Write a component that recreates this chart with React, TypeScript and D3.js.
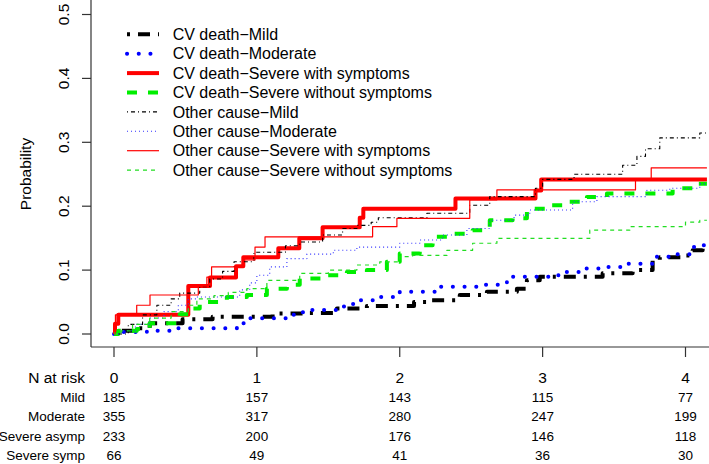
import React from "react";
import * as d3 from "d3";

// ---- data ----
const xTicks = [0, 1, 2, 3, 4];
const yTicks = [0, 0.1, 0.2, 0.3, 0.4, 0.5];
const endTime = 4.15;

const seriesNames = [
  "CV death\u2212Mild",
  "CV death\u2212Moderate",
  "CV death\u2212Severe with symptoms",
  "CV death\u2212Severe without symptoms",
  "Other cause\u2212Mild",
  "Other cause\u2212Moderate",
  "Other cause\u2212Severe with symptoms",
  "Other cause\u2212Severe without symptoms",
];

const cvMildT = [0, 0.05, 0.13, 0.25, 0.48, 0.69, 1.11, 1.35, 1.56, 1.77, 2.1, 2.19, 2.42, 2.61, 2.82, 2.89, 2.98, 3.42, 3.63, 3.77, 3.82, 3.98, 4.05, 4.12];
const cvMildP = [0, 0.005, 0.009, 0.017, 0.023, 0.027, 0.032, 0.033, 0.04, 0.044, 0.05, 0.053, 0.061, 0.066, 0.071, 0.084, 0.0895, 0.095, 0.1, 0.116, 0.12, 0.123, 0.131, 0.139];

const cvModT = [0, 0.05, 0.23, 0.39, 0.86, 0.93, 1.23, 1.3, 1.37, 1.58, 1.65, 1.72, 1.86, 2.0, 2.28, 2.54, 2.75, 3.07, 3.14, 3.26, 3.45, 3.59, 3.8, 3.94, 4.05, 4.12];
const cvModP = [0, 0.003, 0.005, 0.009, 0.017, 0.0245, 0.03, 0.034, 0.0375, 0.043, 0.047, 0.053, 0.058, 0.066, 0.074, 0.077, 0.0895, 0.092, 0.097, 0.1026, 0.105, 0.11, 0.121, 0.125, 0.136, 0.139];

const cvSevSympT = [0, 0.007, 0.03, 0.52, 0.672, 0.854, 0.905, 1.15, 1.297, 1.46, 1.72, 1.745, 2.39, 2.95, 2.99];
const cvSevSympP = [0, 0.016, 0.03, 0.075, 0.0886, 0.106, 0.12, 0.134, 0.15, 0.167, 0.182, 0.196, 0.212, 0.2245, 0.2417];

const cvSevAsympT = [0, 0.03, 0.16, 0.25, 0.46, 0.52, 0.6, 0.79, 0.93, 1.07, 1.21, 1.3, 1.49, 1.63, 1.77, 1.91, 2.0, 2.14, 2.23, 2.37, 2.51, 2.63, 2.79, 2.89, 3.03, 3.17, 3.31, 3.45, 3.91, 4.05];
const cvSevAsympP = [0, 0.005, 0.008, 0.017, 0.031, 0.04, 0.05, 0.058, 0.061, 0.071, 0.077, 0.087, 0.092, 0.097, 0.1, 0.113, 0.126, 0.139, 0.152, 0.157, 0.1625, 0.178, 0.181, 0.196, 0.2016, 0.207, 0.2145, 0.22, 0.228, 0.235];

const ocMildT = [0, 0.1, 0.2, 0.3, 0.4, 0.46, 0.6, 0.67, 0.76, 0.84, 0.98, 1.2, 1.3, 1.46, 1.6, 1.7, 1.8, 1.85, 2.19, 2.49, 2.63, 2.95, 3.0, 3.22, 3.56, 3.66, 3.72, 3.82, 4.1];
const ocMildP = [0, 0.015, 0.03, 0.045, 0.055, 0.064, 0.074, 0.086, 0.098, 0.113, 0.128, 0.138, 0.144, 0.155, 0.165, 0.17, 0.175, 0.182, 0.189, 0.2016, 0.215, 0.228, 0.242, 0.25, 0.264, 0.278, 0.29, 0.307, 0.3145];

const ocModT = [0, 0.05, 0.15, 0.25, 0.35, 0.45, 0.52, 0.58, 0.88, 0.95, 1.0, 1.09, 1.21, 1.35, 1.535, 1.7, 2.0, 2.14, 2.3, 2.47, 2.63, 2.8, 2.91, 3.21, 3.38, 3.73, 3.89, 4.1];
const ocModP = [0, 0.005, 0.015, 0.025, 0.035, 0.045, 0.055, 0.058, 0.069, 0.08, 0.092, 0.105, 0.118, 0.125, 0.131, 0.136, 0.142, 0.147, 0.155, 0.165, 0.178, 0.186, 0.194, 0.207, 0.215, 0.225, 0.228, 0.235];

const ocSevSympT = [0, 0.01, 0.159, 0.252, 0.59, 0.65, 0.683, 0.905, 0.987, 1.057, 1.81, 1.98, 2.49, 2.68, 3.65, 3.76];
const ocSevSympP = [0, 0.03, 0.045, 0.061, 0.075, 0.089, 0.105, 0.116, 0.136, 0.152, 0.168, 0.181, 0.21, 0.2255, 0.242, 0.26];

const ocSevAsympT = [0, 0.05, 0.13, 0.25, 0.4, 0.52, 0.58, 0.7, 0.8, 0.93, 1.07, 1.3, 1.5, 1.7, 1.86, 2.0, 2.09, 2.33, 2.51, 2.68, 3.33, 3.61, 4.0, 4.1];
const ocSevAsympP = [0, 0.005, 0.015, 0.025, 0.035, 0.045, 0.055, 0.06, 0.065, 0.071, 0.084, 0.095, 0.1, 0.108, 0.113, 0.121, 0.123, 0.131, 0.142, 0.1495, 0.1625, 0.168, 0.175, 0.178];

const riskGroups = ["Mild", "Moderate", "Severe asymp", "Severe symp"];
const riskMild = [185, 157, 143, 115, 77];
const riskModerate = [355, 317, 280, 247, 199];
const riskSevereAsymp = [233, 200, 176, 146, 118];
const riskSevereSymp = [66, 49, 41, 36, 30];

// ---- styles ----
const styles = [
  { color: "#000000", width: 4, dash: "3 8 12 8", cap: "butt" },
  { color: "#0000ff", width: 4, dash: "0.1 11.6", cap: "round" },
  { color: "#ff0000", width: 4, dash: "", cap: "butt" },
  { color: "#00ee00", width: 4, dash: "10 11", cap: "butt" },
  { color: "#000000", width: 1.1, dash: "1 3 4 3", cap: "butt" },
  { color: "#3333ff", width: 1.1, dash: "1 3", cap: "butt" },
  { color: "#ff0000", width: 1.2, dash: "", cap: "butt" },
  { color: "#22dd22", width: 1.2, dash: "4 4", cap: "butt" },
];

const FONT = "'Liberation Sans', Arial, Helvetica, sans-serif";

export default function App() {
  const x = d3.scaleLinear().domain([0, 4]).range([114, 685.5]);
  const y = d3.scaleLinear().domain([0, 0.5]).range([334, 14.5]);
  const seriesT = [cvMildT, cvModT, cvSevSympT, cvSevAsympT, ocMildT, ocModT, ocSevSympT, ocSevAsympT];
  const seriesP = [cvMildP, cvModP, cvSevSympP, cvSevAsympP, ocMildP, ocModP, ocSevSympP, ocSevAsympP];
  const line = d3
    .line<[number, number]>()
    .x((d) => x(d[0]))
    .y((d) => y(d[1]))
    .curve(d3.curveStepAfter);

  const paths = seriesT.map((ts, i) => {
    const pts: [number, number][] = ts.map((t, j) => [t, seriesP[i][j]]);
    pts.push([endTime, seriesP[i][seriesP[i].length - 1]]);
    return line(pts) || "";
  });

  const riskRows = [riskMild, riskModerate, riskSevereAsymp, riskSevereSymp];
  const axisBottom = 347;
  const axisLeft = 91;
  const legendY0 = 34.3;
  const legendStep = 19.4;

  return (
    <svg
      width={709}
      height={464}
      style={{ position: "absolute", left: 0, top: 0, background: "#fff" }}
      fontFamily={FONT}
    >
      <rect x={0} y={0} width={709} height={464} fill="#fff" />
      {/* curves */}
      {paths.map((d, i) => (
        <path
          key={i}
          d={d}
          fill="none"
          stroke={styles[i].color}
          strokeWidth={styles[i].width}
          strokeDasharray={styles[i].dash || undefined}
          strokeLinecap={styles[i].cap as any}
          strokeLinejoin="round"
        />
      ))}
      {/* axes box lines */}
      <line x1={axisLeft} x2={axisLeft} y1={0} y2={axisBottom} stroke="#333" strokeWidth={1.2} />
      <line x1={axisLeft} x2={709} y1={axisBottom} y2={axisBottom} stroke="#333" strokeWidth={1.2} />
      {yTicks.map((v) => (
        <g key={v}>
          <line x1={axisLeft - 9} x2={axisLeft} y1={y(v)} y2={y(v)} stroke="#333" strokeWidth={1.2} />
          <text
            transform={`translate(63,${y(v)}) rotate(-90)`}
            textAnchor="middle"
            dominantBaseline="central"
            fontSize={15.5}
            fill="#000"
          >
            {v.toFixed(1)}
          </text>
        </g>
      ))}
      {xTicks.map((v) => (
        <g key={v}>
          <line x1={x(v)} x2={x(v)} y1={axisBottom} y2={axisBottom + 10} stroke="#333" strokeWidth={1.2} />
          <text x={x(v)} y={377 + 5.5} textAnchor="middle" fontSize={15.5} fill="#000">
            {v}
          </text>
        </g>
      ))}
      <text
        transform="translate(25,174) rotate(-90)"
        textAnchor="middle"
        dominantBaseline="central"
        fontSize={15.5}
        fill="#000"
      >
        Probability
      </text>
      {/* legend */}
      {seriesNames.map((name, i) => {
        const cy = legendY0 + i * legendStep;
        return (
          <g key={name}>
            <line
              x1={127}
              x2={159}
              y1={cy}
              y2={cy}
              stroke={styles[i].color}
              strokeWidth={styles[i].width}
              strokeDasharray={styles[i].dash || undefined}
              strokeLinecap={styles[i].cap as any}
            />
            <text x={172.7} y={cy + 5.7} fontSize={16} fill="#000">
              {name}
            </text>
          </g>
        );
      })}
      {/* risk table */}
      <text x={85} y={377 + 5.5} textAnchor="end" fontSize={15.5} fill="#000">
        N at risk
      </text>
      {riskGroups.map((g, r) => {
        const cy = 396.7 + r * 19.5;
        return (
          <g key={g}>
            <text x={85} y={cy + 4.8} textAnchor="end" fontSize={13.5} fill="#000">
              {g}
            </text>
            {riskRows[r].map((n, k) => (
              <text key={k} x={x(xTicks[k])} y={cy + 4.8} textAnchor="middle" fontSize={13.5} fill="#000">
                {n}
              </text>
            ))}
          </g>
        );
      })}
    </svg>
  );
}
